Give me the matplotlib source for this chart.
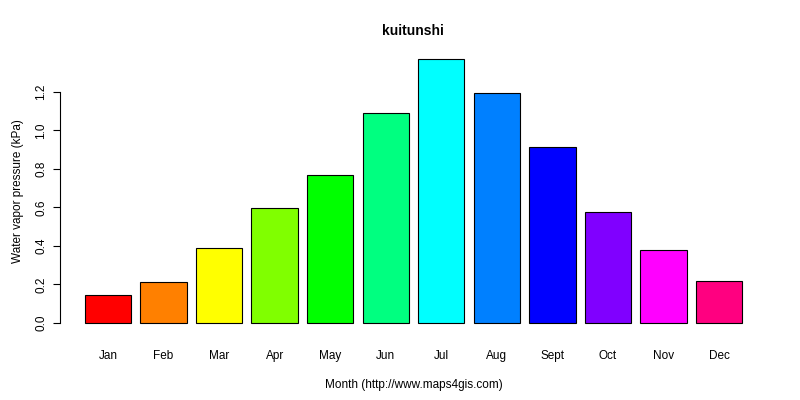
import matplotlib
matplotlib.use("Agg")
import matplotlib.pyplot as plt

months = ["Jan","Feb","Mar","Apr","May","Jun","Jul","Aug","Sept","Oct","Nov","Dec"]
values = [0.145,0.213,0.39,0.597,0.769,1.09,1.371,1.195,0.914,0.577,0.379,0.218]
colors = ["#FF0000","#FF8000","#FFFF00","#80FF00","#00FF00","#00FF80",
          "#00FFFF","#0080FF","#0000FF","#8000FF","#FF00FF","#FF0080"]
yticks = [0.0,0.2,0.4,0.6,0.8,1.0,1.2]

plt.rcParams["font.family"] = "Liberation Sans"
fig = plt.figure(figsize=(8,4), dpi=100)
W, H = 800, 400
l, r, b, t = 60, 767, 333.5, 48.5
ax = fig.add_axes([l/W, 1-b/H, (r-l)/W, (b-t)/H])
x = list(range(len(months)))
ax.bar(x, values, width=0.833, color=colors, edgecolor="black", linewidth=0.8)
ax.set_xlim(-0.863, 11.863)
ax.set_ylim(-0.0548, 1.426)
for s in ["top","right","bottom"]:
    ax.spines[s].set_visible(False)
ax.spines["left"].set_bounds(0, 1.2)
ax.set_yticks(yticks)
ax.set_yticklabels([f"{v:.1f}" for v in yticks], rotation=90, va="center", fontsize=8.5)
ax.set_xticks(x)
ax.set_xticklabels(months, fontsize=8.5)
ax.tick_params(axis="x", length=0, pad=12)
ax.tick_params(axis="y", length=5, pad=4)
ax.set_xlabel("Month (http://www.maps4gis.com)", fontsize=8.5, labelpad=12)
ax.set_ylabel("Water vapor pressure (kPa)", fontsize=8.5, labelpad=8)
fig.text(413/W, 1-31/H, "kuitunshi", ha="center", va="center", fontsize=10, fontweight="bold")
fig.savefig("out.png", dpi=100)
